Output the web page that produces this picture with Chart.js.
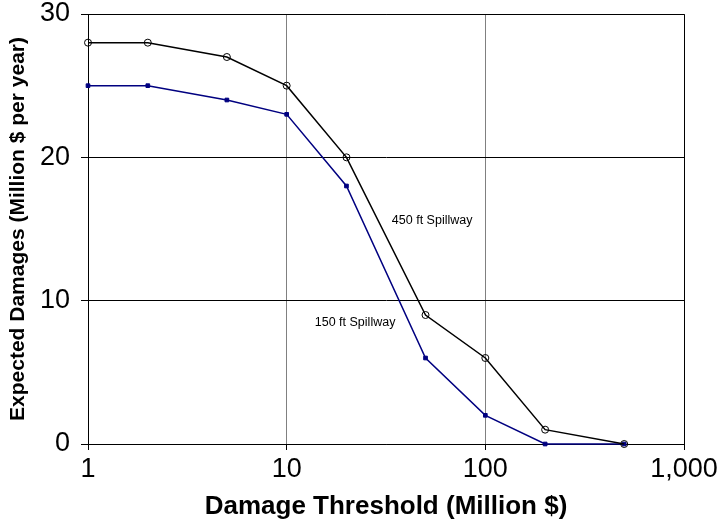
<!DOCTYPE html>
<html>
<head>
<meta charset="utf-8">
<script src="https://cdn.jsdelivr.net/npm/chart.js@4/dist/chart.umd.min.js"></script>
<style>
  html, body { margin: 0; padding: 0; background: #fff; }
  #wrap { width: 719px; height: 525px; }
</style>
</head>
<body>
<div id="wrap"><canvas id="c" width="719" height="525"></canvas></div>
<script>
// Damage thresholds (Million $) and expected damages (Million $ per year)
const thresholds = [1, 2, 5, 10, 20, 50, 100, 200, 500];
const damages450 = [28, 28, 27, 25, 20, 9, 6, 1, 0];
const damages150 = [25, 25, 24, 23, 18, 6, 2, 0, 0];
const xTickValues = [1, 10, 100, 1000];
const seriesLabels = ['450 ft Spillway', '150 ft Spillway'];
// Label anchor points in data units: [x, y]
const labelAnchors = [[54, 15.6], [22.1, 8.45]];

const toPoints = (xs, ys) => xs.map((x, i) => ({ x: x, y: ys[i] }));
const ARIAL = '"Liberation Sans", Arial, sans-serif';

// Frame around the plot area and the in-plot series labels
const framePlugin = {
  id: 'frame',
  afterDatasetsDraw(chart) {
    const { ctx, chartArea: a, scales } = chart;
    ctx.save();
    ctx.strokeStyle = '#000';
    ctx.lineWidth = 1;
    ctx.beginPath();
    ctx.moveTo(a.left, a.top + 0.5);
    ctx.lineTo(a.right + 0.5, a.top + 0.5);
    ctx.lineTo(a.right + 0.5, a.bottom);
    ctx.stroke();
    ctx.fillStyle = '#000';
    ctx.font = '12.5px ' + ARIAL;
    ctx.textAlign = 'center';
    ctx.textBaseline = 'middle';
    labelAnchors.forEach((p, i) => {
      ctx.fillText(seriesLabels[i], scales.x.getPixelForValue(p[0]), scales.y.getPixelForValue(p[1]));
    });
    ctx.restore();
  }
};

new Chart(document.getElementById('c'), {
  type: 'line',
  data: {
    datasets: [
      {
        label: seriesLabels[0],
        data: toPoints(thresholds, damages450),
        borderColor: '#000',
        borderWidth: 1.5,
        pointStyle: 'circle',
        pointRadius: 3.5,
        pointBackgroundColor: 'rgba(0,0,0,0)',
        pointBorderColor: '#000',
        pointBorderWidth: 1,
        tension: 0
      },
      {
        label: seriesLabels[1],
        data: toPoints(thresholds, damages150),
        borderColor: '#000080',
        borderWidth: 1.5,
        pointStyle: 'rect',
        pointRadius: 2.6,
        pointBackgroundColor: '#000080',
        pointBorderColor: '#000080',
        pointBorderWidth: 1,
        tension: 0
      }
    ]
  },
  options: {
    responsive: false,
    animation: false,
    clip: false,
    layout: { padding: { top: 14, right: 35, left: 6, bottom: 3 } },
    plugins: { legend: { display: false }, tooltip: { enabled: false } },
    scales: {
      x: {
        type: 'logarithmic',
        min: 1,
        max: 1000,
        afterBuildTicks(scale) { scale.ticks = xTickValues.map(v => ({ value: v })); },
        afterFit(scale) {
          scale.height = 78;
          scale.paddingLeft = 0;
          scale.paddingRight = 0;
        },
        ticks: {
          color: '#000',
          font: { family: ARIAL, size: 27 },
          padding: 3,
          maxRotation: 0,
          autoSkip: false,
          callback: (v) => Number(v).toLocaleString('en-US')
        },
        grid: { color: '#808080', lineWidth: 1, tickLength: 6, tickColor: '#000' },
        border: { color: '#000', width: 1 },
        title: {
          display: true,
          text: 'Damage Threshold (Million $)',
          color: '#000',
          font: { family: ARIAL, size: 26, weight: 'bold' },
          padding: { top: 0, bottom: 0 }
        }
      },
      y: {
        min: 0,
        max: 30,
        afterFit(scale) {
          scale.width = 82;
          scale.paddingTop = 0;
          scale.paddingBottom = 0;
        },
        ticks: {
          stepSize: 10,
          color: '#000',
          font: { family: ARIAL, size: 27 },
          padding: 11
        },
        grid: { color: '#000', lineWidth: 1, tickLength: 7, tickColor: '#000' },
        border: { color: '#000', width: 1 },
        title: {
          display: true,
          text: 'Expected Damages (Million $ per year)',
          color: '#000',
          font: { family: ARIAL, size: 21, weight: 'bold' },
          padding: { top: 0, bottom: 0 }
        }
      }
    }
  },
  plugins: [framePlugin]
});
</script>
</body>
</html>
